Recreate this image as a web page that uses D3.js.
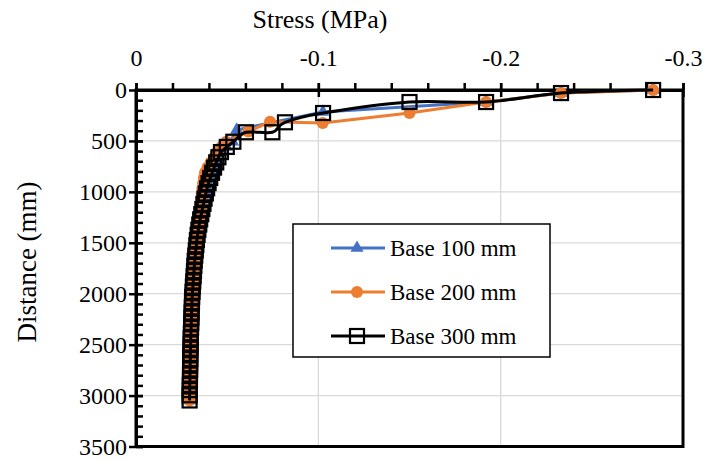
<!DOCTYPE html>
<html>
<head>
<meta charset="utf-8">
<script src="https://cdn.jsdelivr.net/npm/d3@7"></script>
<style>
  body { margin: 0; background: #fff; }
  svg { display: block; }
  text { font-family: "Liberation Serif", "Times New Roman", serif; }
</style>
</head>
<body>
<div id="chart"></div>
<script>
// --- data (stress in MPa, distance in mm) ---
var depthTail = [508, 558.8, 609.6, 660.4, 711.2, 762, 812.8, 863.6, 914.4, 965.2,
  1016, 1066.8, 1117.6, 1168.4, 1219.2, 1270, 1320.8, 1371.6, 1422.4, 1473.2,
  1524, 1574.8, 1625.6, 1676.4, 1727.2, 1778, 1828.8, 1879.6, 1930.4, 1981.2,
  2032, 2082.8, 2133.6, 2184.4, 2235.2, 2286, 2336.8, 2387.6, 2438.4, 2489.2,
  2540, 2590.8, 2641.6, 2692.4, 2743.2, 2794, 2844.8, 2895.6, 2946.4, 2997.2, 3048];

var depthHead100 = [0, 30, 118, 215, 392];
var stressHead100 = [-0.2836, -0.2331, -0.1920, -0.1025, -0.0552];
var stressTail100 = [-0.0530, -0.0496, -0.0464, -0.0450, -0.0438, -0.0426, -0.0415, -0.0405, -0.0396, -0.0389,
  -0.0382, -0.0375, -0.0369, -0.0363, -0.0357, -0.0351, -0.0346, -0.0341, -0.0337, -0.0333,
  -0.0330, -0.0327, -0.0324, -0.0322, -0.0320, -0.0318, -0.0316, -0.0314, -0.0312, -0.0310,
  -0.0308, -0.0307, -0.0306, -0.0305, -0.0304, -0.0303, -0.0302, -0.0301, -0.0300, -0.0300,
  -0.0299, -0.0298, -0.0298, -0.0297, -0.0297, -0.0296, -0.0296, -0.0295, -0.0295, -0.0294, -0.0294];

var depthHead200 = [0, 30, 118, 225, 325, 312, 408];
var stressHead200 = [-0.2836, -0.2331, -0.1920, -0.1500, -0.1024, -0.0735, -0.0616];
var stressTail200 = [-0.0495, -0.0468, -0.0445, -0.0428, -0.0410, -0.0392, -0.0378, -0.0372, -0.0368, -0.0364,
  -0.0360, -0.0358, -0.0356, -0.0354, -0.0352, -0.0349, -0.0345, -0.0341, -0.0337, -0.0333,
  -0.0330, -0.0327, -0.0324, -0.0322, -0.0320, -0.0318, -0.0316, -0.0314, -0.0312, -0.0310,
  -0.0308, -0.0307, -0.0306, -0.0305, -0.0304, -0.0303, -0.0302, -0.0301, -0.0300, -0.0300,
  -0.0299, -0.0298, -0.0298, -0.0297, -0.0297, -0.0296, -0.0296, -0.0295, -0.0295, -0.0294, -0.0294];

var depthHead300 = [0, 30, 118, 118, 226, 317, 415, 415];
var stressHead300 = [-0.2836, -0.2331, -0.1920, -0.1500, -0.1026, -0.0817, -0.0748, -0.0603];
var stressTail300 = [-0.0534, -0.0498, -0.0466, -0.0452, -0.0440, -0.0428, -0.0417, -0.0407, -0.0398, -0.0390,
  -0.0383, -0.0376, -0.0370, -0.0364, -0.0358, -0.0352, -0.0347, -0.0342, -0.0338, -0.0334,
  -0.0331, -0.0328, -0.0325, -0.0322, -0.0320, -0.0318, -0.0316, -0.0314, -0.0312, -0.0310,
  -0.0308, -0.0307, -0.0306, -0.0305, -0.0304, -0.0303, -0.0302, -0.0301, -0.0300, -0.0300,
  -0.0299, -0.0298, -0.0298, -0.0297, -0.0297, -0.0296, -0.0296, -0.0295, -0.0295, -0.0294, -0.0294];

var seriesNames = ["Base 100 mm", "Base 200 mm", "Base 300 mm"];
var xTicks = [0, -0.1, -0.2, -0.3];
var yTicks = [0, 500, 1000, 1500, 2000, 2500, 3000, 3500];

function pts(dh, sh, dt, st) {
  var d = dh.concat(dt), s = sh.concat(st);
  return d.map(function (v, i) { return {depth: v, stress: s[i]}; });
}
var s100 = pts(depthHead100, stressHead100, depthTail, stressTail100);
var s200 = pts(depthHead200, stressHead200, depthTail, stressTail200);
var s300 = pts(depthHead300, stressHead300, depthTail, stressTail300);

var W = 708, H = 460;
var pL = 136, pR = 683, pT = 90, pB = 446.5;
var serif = '"Liberation Serif", "Times New Roman", serif';

var svg = d3.select("#chart").append("svg").attr("width", W).attr("height", H);

var x = d3.scaleLinear().domain([0, -0.3]).range([pL, pR]);
var y = d3.scaleLinear().domain([0, 3500]).range([pT, pB]);

// gridlines
svg.append("g").selectAll("line").data(xTicks.slice(1, 3)).enter().append("line")
  .attr("x1", function (d) { return x(d); }).attr("x2", function (d) { return x(d); })
  .attr("y1", pT).attr("y2", pB)
  .attr("stroke", "#d9d9d9").attr("stroke-width", 1.3);
svg.append("g").selectAll("line").data(yTicks.slice(1, 7)).enter().append("line")
  .attr("y1", function (d) { return y(d); }).attr("y2", function (d) { return y(d); })
  .attr("x1", pL).attr("x2", pR)
  .attr("stroke", "#d9d9d9").attr("stroke-width", 1.3);

// plot border
svg.append("rect").attr("x", pL).attr("y", pT)
  .attr("width", pR - pL).attr("height", pB - pT)
  .attr("fill", "none").attr("stroke", "#000").attr("stroke-width", 3);

// axes (top x axis, left y axis) with crossing major ticks and minor ticks
function styleAxis(g) {
  g.attr("font-family", null);
  g.select(".domain").attr("stroke", "#000").attr("stroke-width", 3);
  g.selectAll(".tick line").attr("stroke", "#000").attr("stroke-width", 2.5);
  g.selectAll("text").style("font-family", serif).attr("font-size", 24).attr("fill", "#000");
}
var fmtX = function (d) { return d === 0 ? "0" : d3.format(".1f")(d).replace("\u2212", "-"); };
var fmtY = d3.format("d");

svg.append("g").attr("transform", "translate(0," + pT + ")")
  .call(d3.axisTop(x).tickValues(xTicks).tickSize(7).tickSizeOuter(0).tickPadding(17).tickFormat(fmtX))
  .call(styleAxis);
svg.append("g").attr("transform", "translate(0," + pT + ")")
  .call(d3.axisBottom(x).tickValues(xTicks).tickSize(7).tickSizeOuter(0).tickFormat(""))
  .call(styleAxis);
svg.append("g").attr("transform", "translate(0," + pT + ")")
  .call(d3.axisTop(x).tickValues(d3.range(0, -0.3001, -0.02)).tickSize(7).tickSizeOuter(0).tickFormat(""))
  .call(styleAxis);

svg.append("g").attr("transform", "translate(" + pL + ",0)")
  .call(d3.axisLeft(y).tickValues(yTicks).tickSize(7).tickSizeOuter(0).tickPadding(2).tickFormat(fmtY))
  .call(styleAxis);
svg.append("g").attr("transform", "translate(" + pL + ",0)")
  .call(d3.axisRight(y).tickValues(yTicks).tickSize(7).tickSizeOuter(0).tickFormat(""))
  .call(styleAxis);
svg.append("g").attr("transform", "translate(" + pL + ",0)")
  .call(d3.axisRight(y).tickValues(d3.range(0, 3501, 100)).tickSize(7).tickSizeOuter(0).tickFormat(""))
  .call(styleAxis);

// axis titles
svg.append("text").attr("x", 320).attr("y", 28).attr("text-anchor", "middle")
  .style("font-family", serif).attr("font-size", 26).text("Stress (MPa)");
svg.append("text").attr("transform", "translate(36,262) rotate(-90)").attr("text-anchor", "middle")
  .style("font-family", serif).attr("font-size", 27).text("Distance (mm)");

// series
var straight = d3.line().x(function (d) { return x(d.stress); }).y(function (d) { return y(d.depth); });
var smooth = d3.line().curve(d3.curveCatmullRom.alpha(0))
  .x(function (d) { return x(d.stress); }).y(function (d) { return y(d.depth); });
var tri = d3.symbol().type(d3.symbolTriangle).size(75);

svg.append("path").datum(s100).attr("d", straight)
  .attr("fill", "none").attr("stroke", "#4472C4").attr("stroke-width", 3);
svg.append("g").selectAll("path").data(s100).enter().append("path")
  .attr("d", tri)
  .attr("transform", function (d) { return "translate(" + x(d.stress) + "," + y(d.depth) + ")"; })
  .attr("fill", "#4472C4");

svg.append("path").datum(s200).attr("d", straight)
  .attr("fill", "none").attr("stroke", "#ED7D31").attr("stroke-width", 3);
svg.append("g").selectAll("circle").data(s200).enter().append("circle")
  .attr("cx", function (d) { return x(d.stress); }).attr("cy", function (d) { return y(d.depth); })
  .attr("r", 6).attr("fill", "#ED7D31");

svg.append("path").datum(s300).attr("d", smooth)
  .attr("fill", "none").attr("stroke", "#000").attr("stroke-width", 3);
svg.append("g").selectAll("rect").data(s300).enter().append("rect")
  .attr("x", function (d) { return x(d.stress) - 7; }).attr("y", function (d) { return y(d.depth) - 7; })
  .attr("width", 14).attr("height", 14)
  .attr("fill", "none").attr("stroke", "#000").attr("stroke-width", 2.2);

// legend
var lg = svg.append("g");
lg.append("rect").attr("x", 293).attr("y", 224).attr("width", 257).attr("height", 133)
  .attr("fill", "#fff").attr("stroke", "#000").attr("stroke-width", 1.5);
var colors = ["#4472C4", "#ED7D31", "#000"];
var rowY = [248, 292, 336];
seriesNames.forEach(function (name, i) {
  var yy = rowY[i];
  lg.append("line").attr("x1", 331).attr("x2", 385).attr("y1", yy).attr("y2", yy)
    .attr("stroke", colors[i]).attr("stroke-width", 3);
  if (i === 0) {
    lg.append("path").attr("d", tri).attr("transform", "translate(357," + yy + ")").attr("fill", colors[i]);
  } else if (i === 1) {
    lg.append("circle").attr("cx", 357).attr("cy", yy).attr("r", 6).attr("fill", colors[i]);
  } else {
    lg.append("rect").attr("x", 350).attr("y", yy - 7).attr("width", 14).attr("height", 14)
      .attr("fill", "none").attr("stroke", "#000").attr("stroke-width", 2.2);
  }
  lg.append("text").attr("x", 390).attr("y", yy).attr("dy", "0.35em")
    .style("font-family", serif).attr("font-size", 23).text(name);
});
</script>
</body>
</html>
